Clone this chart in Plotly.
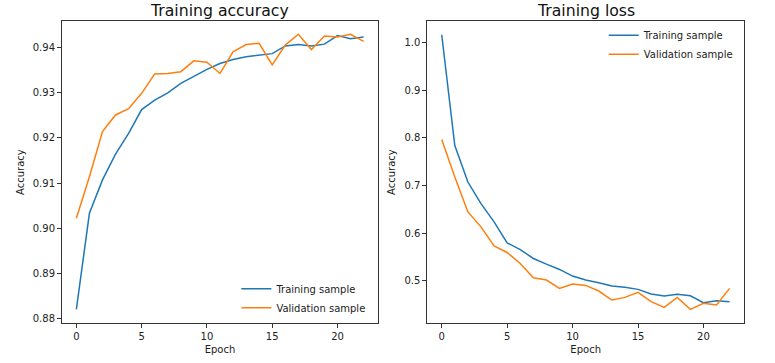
import plotly.graph_objects as go

epochs = list(range(23))

train_acc = [0.8820, 0.9033, 0.9107, 0.9164, 0.9210, 0.9263, 0.9284, 0.9300, 0.9321,
             0.9336, 0.9352, 0.9365, 0.9374, 0.9380, 0.9384, 0.9387, 0.9404, 0.9407,
             0.9404, 0.9408, 0.9427, 0.9420, 0.9424]
val_acc = [0.9022, 0.9114, 0.9214, 0.9251, 0.9265, 0.9299, 0.9342, 0.9343, 0.9347,
           0.9371, 0.9368, 0.9343, 0.9391, 0.9407, 0.9410, 0.9362, 0.9406, 0.9430,
           0.9396, 0.9426, 0.9424, 0.9430, 0.9414]

train_loss = [1.016, 0.7838, 0.7071, 0.6618, 0.6234, 0.5795, 0.5655, 0.5467, 0.5349,
              0.5237, 0.5098, 0.5014, 0.4958, 0.4888, 0.4861, 0.4819, 0.4721, 0.4679,
              0.4714, 0.4686, 0.4540, 0.4582, 0.4561]
val_loss = [0.7964, 0.7176, 0.6444, 0.6130, 0.5732, 0.5593, 0.5363, 0.5063, 0.5014,
            0.4840, 0.4930, 0.4902, 0.4784, 0.4596, 0.4651, 0.4756, 0.4561, 0.4442,
            0.4651, 0.4400, 0.4526, 0.4491, 0.4840]

titles = ["Training accuracy", "Training loss"]
series_names = ["Training sample", "Validation sample"]
BLUE = "#1f77b4"
ORANGE = "#ff7f0e"
FONT = "DejaVu Sans"

fig = go.Figure()
fig.add_trace(go.Scatter(x=epochs, y=train_acc, mode="lines", name=series_names[0],
                         line=dict(color=BLUE, width=1.5), xaxis="x", yaxis="y", legend="legend"))
fig.add_trace(go.Scatter(x=epochs, y=val_acc, mode="lines", name=series_names[1],
                         line=dict(color=ORANGE, width=1.5), xaxis="x", yaxis="y", legend="legend"))
fig.add_trace(go.Scatter(x=epochs, y=train_loss, mode="lines", name=series_names[0],
                         line=dict(color=BLUE, width=1.5), xaxis="x2", yaxis="y2", legend="legend2"))
fig.add_trace(go.Scatter(x=epochs, y=val_loss, mode="lines", name=series_names[1],
                         line=dict(color=ORANGE, width=1.5), xaxis="x2", yaxis="y2", legend="legend2"))

def ax(**kw):
    base = dict(showgrid=False, zeroline=False, showline=True, linecolor="#333333",
                linewidth=1, mirror=True, ticks="outside", ticklen=4, tickcolor="#333333",
                automargin=False,
                tickfont=dict(family=FONT, size=10, color="#222222"),
                title_font=dict(family=FONT, size=10, color="#222222"))
    base.update(kw)
    return base

L_DOM = [0.080, 0.4877]
R_DOM = [0.5514, 0.960]
Y_DOM = [0.110, 0.942]

fig.update_layout(
    width=775, height=363,
    margin=dict(l=0, r=0, t=0, b=0, autoexpand=False),
    paper_bgcolor="white", plot_bgcolor="white",
    font=dict(family=FONT, size=10, color="#222222"),
    xaxis=ax(domain=L_DOM, anchor="y", range=[-1.1, 23.1], dtick=5, tick0=0,
             title=dict(text="Epoch", standoff=4)),
    yaxis=ax(domain=Y_DOM, anchor="x", range=[0.87896, 0.94592], dtick=0.01, tick0=0.88,
             tickformat=".2f", title=dict(text="Accuracy", standoff=6)),
    xaxis2=ax(domain=R_DOM, anchor="y2", range=[-1.1, 23.1], dtick=5, tick0=0,
              title=dict(text="Epoch", standoff=4)),
    yaxis2=ax(domain=Y_DOM, anchor="x2", range=[0.4112, 1.0448], dtick=0.1, tick0=0.5,
              tickformat=".1f", title=dict(text="Accuracy", standoff=6)),
    legend=dict(x=0.305, y=0.112, xanchor="left", yanchor="bottom",
                bgcolor="rgba(255,255,255,0)", font=dict(family=FONT, size=10, color="#222222"),
                itemwidth=30, tracegroupgap=0),
    legend2=dict(x=0.779, y=0.943, xanchor="left", yanchor="top",
                 bgcolor="rgba(255,255,255,0)", font=dict(family=FONT, size=10, color="#222222"),
                 itemwidth=30, tracegroupgap=0),
    annotations=[
        dict(text=titles[0], x=(L_DOM[0] + L_DOM[1]) / 2, y=1 - 10 / 363, xref="paper", yref="paper",
             showarrow=False, xanchor="center", yanchor="middle",
             font=dict(family=FONT, size=15.7, color="#111111")),
        dict(text=titles[1], x=(R_DOM[0] + R_DOM[1]) / 2, y=1 - 10 / 363, xref="paper", yref="paper",
             showarrow=False, xanchor="center", yanchor="middle",
             font=dict(family=FONT, size=15.7, color="#111111")),
    ],
)

fig.write_html("out.html", config={"displayModeBar": False},
               post_script="document.body.style.margin='0';")
